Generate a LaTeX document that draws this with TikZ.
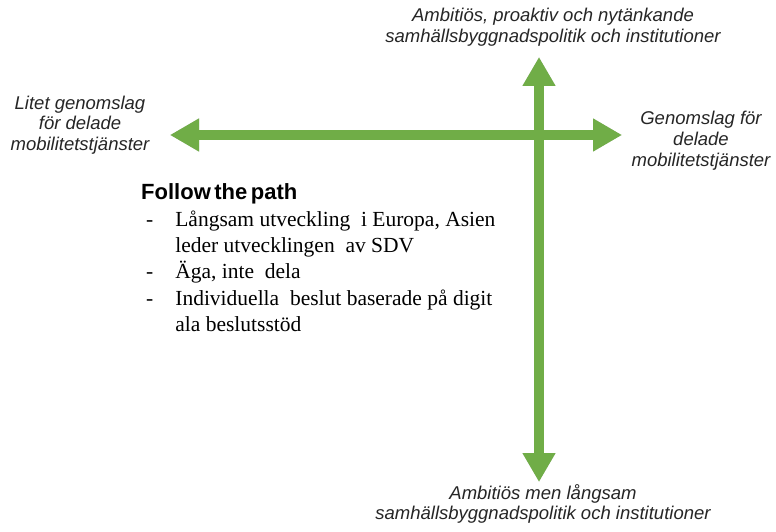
\documentclass[tikz,border=0pt]{standalone}
\usepackage{fontspec}
\setmainfont{Liberation Serif}
\newfontfamily\labelfont{Liberation Sans}
\usetikzlibrary{arrows.meta}
\definecolor{axisgreen}{RGB}{112,173,71}
\tikzset{
  axis/.style={line width=10pt, draw=axisgreen,
    {Triangle[length=29pt,width=31pt]}-{Triangle[length=29pt,width=31pt]}},
  axisshadow/.style={line width=10pt, draw=black, opacity=0.18,
    {Triangle[length=29pt,width=31pt]}-{Triangle[length=29pt,width=31pt]}},
  poslabel/.style={font=\labelfont\itshape\fontsize{18.5}{20.5}\selectfont,
    align=center, inner sep=0pt, text=black!85},
}
\begin{document}
\begin{tikzpicture}[x=1pt,y=-1pt]
  \useasboundingbox[fill=white] (0,0) rectangle (776,532);

  % end points of the two axes
  \coordinate (top) at (539,57);
  \coordinate (bottom) at (539,482);
  \coordinate (left) at (170,135);
  \coordinate (right) at (622,135);

  % soft shadows under the axes
  \begin{scope}[shift={(1.5,2)}]
    \draw[axisshadow] (top) -- (bottom);
    \draw[axisshadow] (left) -- (right);
  \end{scope}

  % vertical axis first, horizontal axis on top
  \draw[axis] (top) -- (bottom);
  \draw[axis] (left) -- (right);

  % axis end labels
  \node[poslabel] (toplabel) at (553,27)
    {Ambitiös, proaktiv och nytänkande\\samhällsbyggnadspolitik och institutioner};
  \node[poslabel] (bottomlabel) at (543,504)
    {Ambitiös men långsam\\samhällsbyggnadspolitik och institutioner};
  \node[poslabel] (leftlabel) at (80,125)
    {Litet genomslag\\för delade\\mobilitetstjänster};
  \node[poslabel, font=\labelfont\itshape\fontsize{18.5}{21}\selectfont] (rightlabel) at (701,141)
    {Genomslag för\\delade\\mobilitetstjänster};

  % scenario description
  \node[anchor=west, inner sep=0pt, font=\labelfont\bfseries\fontsize{22}{24}\selectfont]
    (title) at (141,194) {Follow\hspace{3.5pt}the\hspace{3.5pt}path};
  \node[anchor=north west, inner sep=0pt, font=\fontsize{21.5}{26.2}\selectfont]
    (notes) at (146,208) {%
    \begin{tabular}{@{}l@{\hspace{22pt}}l@{}}
      - & Långsam utveckling \ i Europa, Asien\\
        & leder utvecklingen \ av SDV\\
      - & Äga, inte \ dela\\
      - & Individuella \ beslut baserade på digit\\
        & ala beslutsstöd
    \end{tabular}};
\end{tikzpicture}
\end{document}
